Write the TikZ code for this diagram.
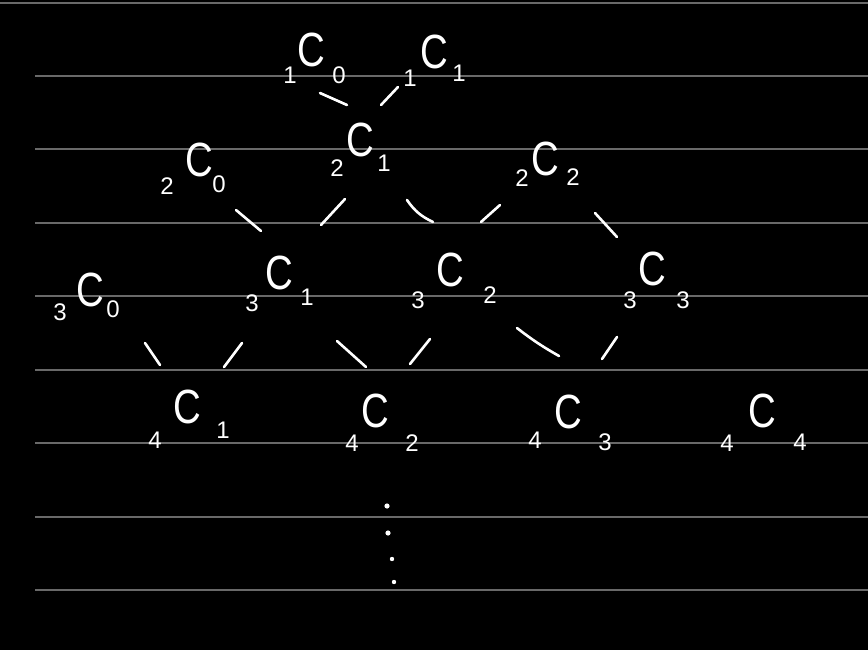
\documentclass[tikz,border=0pt]{standalone}
\usepackage{fontspec}
\setmainfont{Liberation Sans}
\definecolor{ruleg}{RGB}{105,105,105}
\newcommand\nck[9]{%
  \node[bigC] (#1) at (#2,#3) {\scalebox{0.8}[1]{C}};
  \node[dig] (#1n) at (#5,#6) {#4};
  \node[dig] (#1k) at (#8,#9) {#7};}
\begin{document}
\begin{tikzpicture}[x=1pt,y=-1pt,
  bigC/.style={text=white,inner sep=0pt,font=\fontsize{48}{48}\selectfont},
  dig/.style={text=white,inner sep=0pt,font=\fontsize{24}{24}\selectfont},
  ruleline/.style={draw=ruleg,line width=1.8pt},
  stroke/.style={draw=white,line width=2.6pt,line cap=round},
  dotw/.style={fill=white,draw=none}]
\fill[black] (0,0) rectangle (868,650);
\useasboundingbox (0,0) rectangle (868,650);
% ruled lines
\draw[ruleline] (0,3) -- (868,3);
\foreach \yy in {76,149,223,296,370,443,517,590}
  \draw[ruleline] (35,\yy) -- (868,\yy);
% labels
\nck{c10}{311}{50}{1}{290}{75}{0}{339}{75}
\nck{c11}{434}{52}{1}{410}{78}{1}{459}{73}
\nck{c20}{199}{160}{2}{167}{186}{0}{219}{184}
\nck{c21}{360}{140}{2}{337}{168}{1}{384}{163}
\nck{c22}{545}{159}{2}{522}{178}{2}{573}{177}
\nck{c30}{90}{290}{3}{60}{312}{0}{113}{309}
\nck{c31}{279}{273}{3}{252}{303}{1}{307}{297}
\nck{c32}{450}{270}{3}{418}{300}{2}{490}{295}
\nck{c33}{652}{269}{3}{630}{300}{3}{683}{300}
\nck{c41}{187}{407}{4}{155}{440}{1}{223}{430}
\nck{c42}{375}{411}{4}{352}{443}{2}{412}{443}
\nck{c43}{568}{412}{4}{535}{440}{3}{605}{442}
\nck{c44}{762}{411}{4}{727}{443}{4}{800}{442}
% connector end points
\coordinate (a1) at (320,93);  \coordinate (b1) at (347,105);
\coordinate (a2) at (398,87);  \coordinate (b2) at (381,105);
\coordinate (a3) at (236,210); \coordinate (b3) at (261,231);
\coordinate (a4) at (345,199); \coordinate (b4) at (321,225);
\coordinate (a5) at (407,200); \coordinate (b5) at (433,222);
\coordinate (a6) at (500,205); \coordinate (b6) at (481,222);
\coordinate (a7) at (595,213); \coordinate (b7) at (617,237);
\coordinate (a8) at (145,343); \coordinate (b8) at (160,365);
\coordinate (a9) at (242,343); \coordinate (b9) at (224,367);
\coordinate (a10) at (337,341); \coordinate (b10) at (366,367);
\coordinate (a11) at (430,339); \coordinate (b11) at (410,364);
\coordinate (a12) at (517,328); \coordinate (b12) at (559,356);
\coordinate (a13) at (617,337); \coordinate (b13) at (602,359);
\draw[stroke] (a1) -- (b1);
\draw[stroke] (a2) -- (b2);
\draw[stroke] (a3) -- (b3);
\draw[stroke] (a4) -- (b4);
\draw[stroke] (a5) to[bend right=15] (b5);
\draw[stroke] (a6) -- (b6);
\draw[stroke] (a7) -- (b7);
\draw[stroke] (a8) -- (b8);
\draw[stroke] (a9) -- (b9);
\draw[stroke] (a10) -- (b10);
\draw[stroke] (a11) -- (b11);
\draw[stroke] (a12) to[bend right=4] (b12);
\draw[stroke] (a13) -- (b13);
% vertical dots
\fill[dotw] (387,506) circle (2.6);
\fill[dotw] (388,533) circle (2.6);
\fill[dotw] (392,559) circle (2.2);
\fill[dotw] (394,582) circle (2.2);
\end{tikzpicture}
\end{document}
